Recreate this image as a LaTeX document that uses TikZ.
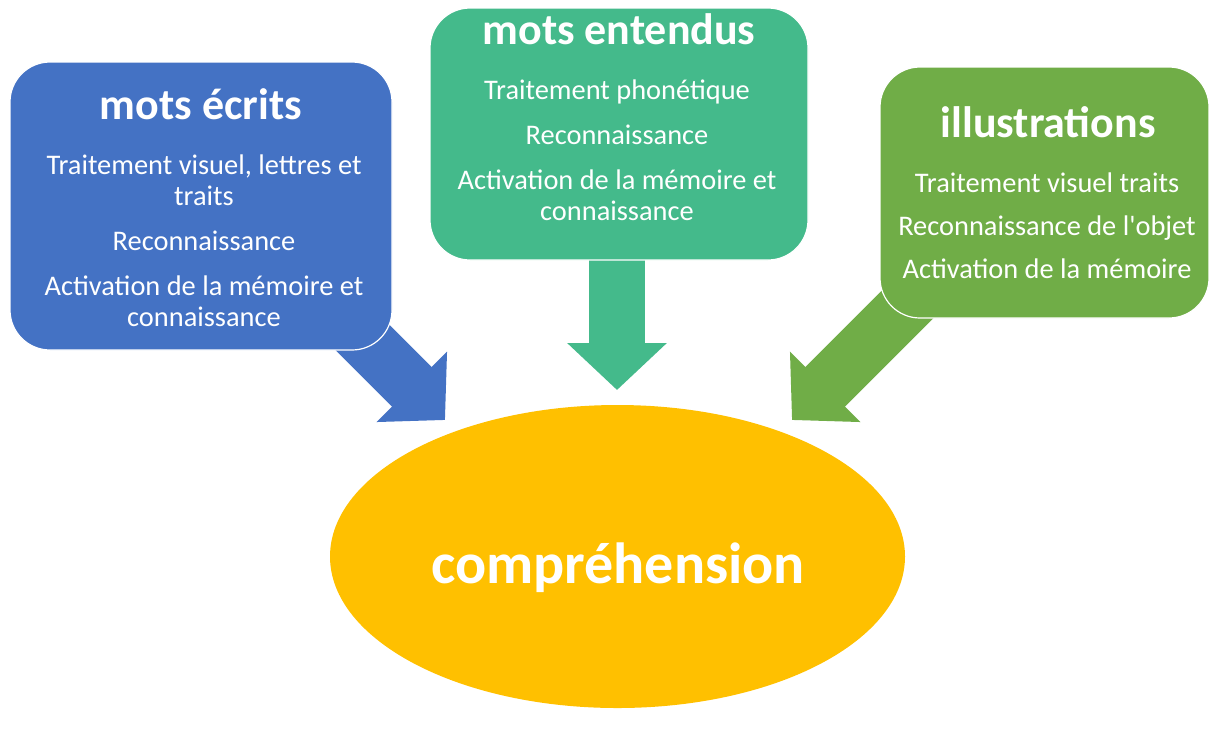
\documentclass[tikz,border=0pt]{standalone}
\usepackage{fontspec}
\setmainfont{Carlito}
\usetikzlibrary{arrows.meta,shapes.geometric,positioning}
\definecolor{bleu}{HTML}{4472C4}
\definecolor{vert}{HTML}{44BA8B}
\definecolor{olive}{HTML}{70AD47}
\definecolor{jaune}{HTML}{FFC000}

\begin{document}
\begin{tikzpicture}[x=0.5pt,y=-0.5pt,
	boite/.style={rectangle,rounded corners=20pt,draw=white,line width=0.6pt,inner sep=0pt},
	titre/.style={text=white,inner sep=0pt,font=\fontsize{22}{26}\selectfont\bfseries},
	texte/.style={text=white,inner sep=0pt,align=center,font=\fontsize{14.2}{15.5}\selectfont},
	fleche/.style={line width=28pt,-{Triangle[length=23.5pt,width=48.5pt]}}]
	\useasboundingbox (0,0) rectangle (1209,735);
	\coordinate (inEcrits) at (350,325);
	\coordinate (tipEcrits) at (445,420);
	\coordinate (inEntendus) at (617,250);
	\coordinate (tipEntendus) at (617,390);
	\coordinate (inIllus) at (918,294);
	\coordinate (tipIllus) at (792,420);
	\draw[fleche,draw=bleu] (inEcrits) -- (tipEcrits);
	\draw[fleche,draw=vert] (inEntendus) -- (tipEntendus);
	\draw[fleche,draw=olive] (inIllus) -- (tipIllus);
	\node[boite,fill=bleu,minimum width=191pt,minimum height=144pt] (ecrits) at (201,206) {};
	\node[boite,fill=vert,minimum width=189pt,minimum height=126pt] (entendus) at (619,134) {};
	\node[boite,fill=olive,minimum width=164.5pt,minimum height=125.5pt] (illus) at (1044.5,192.5) {};
	\node[ellipse,fill=jaune,inner sep=0pt,minimum width=287.5pt,minimum height=151.5pt] (compr) at (617.5,556.5) {};
	\node[titre] (tEcrits) at (201,104) {mots\ écrits};
	\node[texte] (lEcrits) at (204,241) {Traitement visuel, lettres et\\ traits\\[7pt] Reconnaissance\\[7pt] Activation de la mémoire et\\ connaissance};
	\node[titre] (tEntendus) at (619,29) {mots\ entendus};
	\node[texte] (lEntendus) at (617,150) {Traitement phonétique\\[7pt] Reconnaissance\\[7pt] Activation de la mémoire et\\ connaissance};
	\node[titre] (tIllus) at (1048,122) {illustrations};
	\node[texte] (lIllus) at (1047,226) {Traitement visuel traits\\[6pt] Reconnaissance de l\textquotesingle objet\\[6pt] Activation de la mémoire};
	\node[titre,font=\fontsize{29}{34}\selectfont\bfseries] (tCompr) at (618,568) {compréhension};
\end{tikzpicture}
\end{document}
